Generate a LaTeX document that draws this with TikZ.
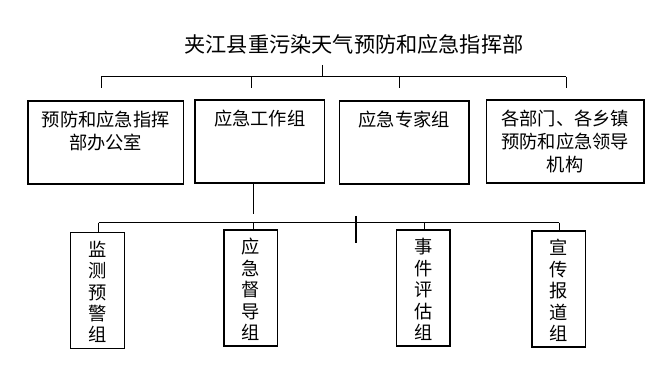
\documentclass[tikz,border=0pt]{standalone}
\usepackage{fontspec}
\setmainfont{Noto Sans CJK SC}
\begin{document}
\begin{tikzpicture}[x=0.75pt,y=-0.75pt,line width=0.75pt,
  box/.style={draw,inner sep=0pt,outer sep=0pt,anchor=north west,line width=0.8pt},
  hbox/.style={box,minimum height=62.25pt},
  vbox/.style={box,minimum width=40.1pt,minimum height=87pt},
  txt/.style={anchor=north,inner sep=0pt,align=center,font=\fontsize{13.7}{17.25}\selectfont},
  vtxt/.style={anchor=north,inner sep=0pt,align=center,font=\fontsize{13.7}{16.1}\selectfont},
  ttl/.style={inner sep=0pt,font=\fontsize{15.9}{18}\selectfont}]
\useasboundingbox (0,0) rectangle (672,366);
% title
\node[ttl] (t) at (354,44) {夹江县重污染天气预防和应急指挥部};
% upper boxes
\node[hbox,minimum width=116.6pt] (b1) at (28,101) {};
\node[hbox,minimum width=97.1pt] (b2) at (195,100) {};
\node[hbox,minimum width=97.1pt] (b3) at (339.5,101) {};
\node[hbox,minimum width=118.1pt] (b4) at (486.5,100) {};
\node[txt] (b1t) at ([yshift=-7pt]b1.north) {预防和应急指挥\\部办公室};
\node[txt] (b2t) at ([yshift=-7pt]b2.north) {应急工作组};
\node[txt] (b3t) at ([yshift=-7pt]b3.north) {应急专家组};
\node[txt] (b4t) at ([yshift=-7pt]b4.north) {各部门、各乡镇\\预防和应急领导\\机构};
% lower boxes
\node[vbox] (la) at (70.7,232.3) {};
\node[vbox] (lb) at (224,230) {};
\node[vbox] (lc) at (396.5,230) {};
\node[vbox] (ld) at (532,231) {};
\node[vtxt] (lat) at ([yshift=-6pt]la.north) {监\\测\\预\\警\\组};
\node[vtxt] (lbt) at ([yshift=-6pt]lb.north) {应\\急\\督\\导\\组};
\node[vtxt] (lct) at ([yshift=-6pt]lc.north) {事\\件\\评\\估\\组};
\node[vtxt] (ldt) at ([yshift=-6pt]ld.north) {宣\\传\\报\\道\\组};
% upper connectors
\coordinate (t0) at (322,65);
\coordinate (t1) at (322,77);
\coordinate (u1) at (101,77);
\coordinate (u2) at (251.6,77);
\coordinate (u3) at (399.5,77);
\coordinate (u4) at (566,77);
\draw (t0) -- (t1);
\draw (u1) -- (u4);
\draw (u1) -- ++(0,11.5);
\draw (u2) -- ++(0,11.5);
\draw (u3) -- ++(0,11.5);
\draw (u4) -- ++(0,11.5);
% lower connectors
\coordinate (w1) at (253,214.3);
\coordinate (q1) at (98.6,222.7);
\coordinate (q2) at (253,222.7);
\coordinate (q3) at (424,222.7);
\coordinate (q4) at (559,222.7);
\coordinate (k0) at (356,216);
\coordinate (k1) at (356,243.3);
\draw (b2.south -| w1) -- (w1);
\draw (q1) -- (q4);
\draw (q1) -- (q1 |- la.north);
\draw (q2) -- (q2 |- lb.north);
\draw (q3) -- (q3 |- lc.north);
\draw (q4) -- (q4 |- ld.north);
\draw[line width=1.6pt] (k0) -- (k1);
\end{tikzpicture}
\end{document}
